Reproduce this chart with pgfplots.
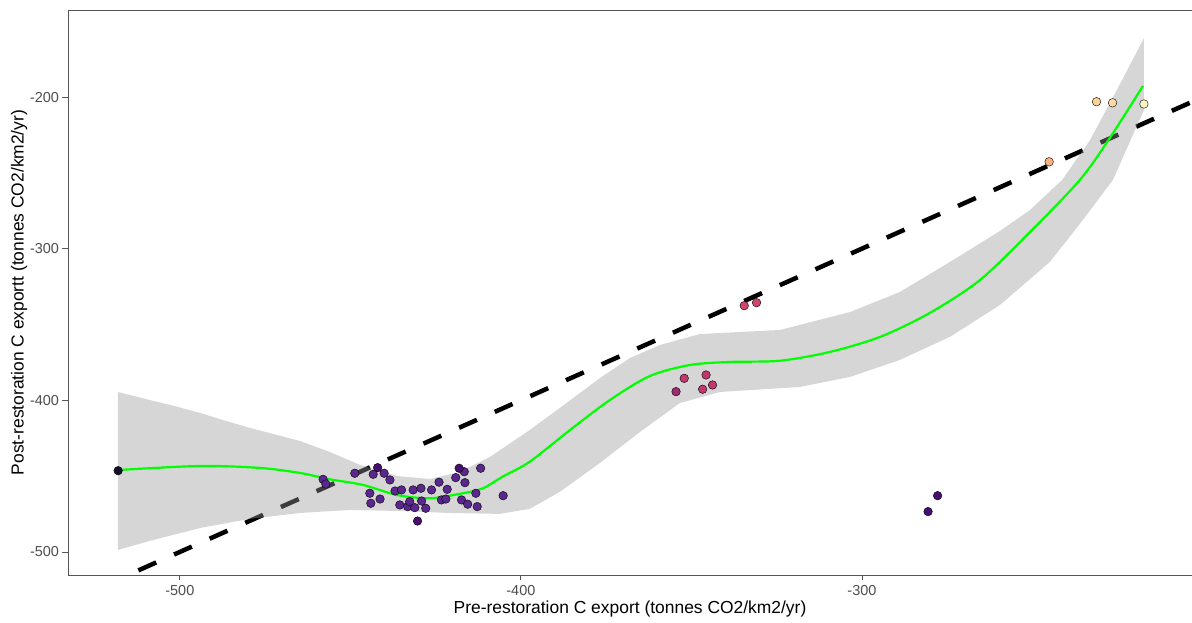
\documentclass[border=0pt]{standalone}
\usepackage{pgfplots}
\pgfplotsset{compat=1.18}
\usepackage{fontspec}
\setmainfont{Liberation Sans}
\definecolor{tickgrey}{HTML}{4D4D4D}
\definecolor{bordergrey}{HTML}{555555}
\definecolor{cpurple}{HTML}{5A288C}
\definecolor{cdark}{HTML}{46106C}
\definecolor{cblack}{HTML}{15102A}
\definecolor{cpinkA}{HTML}{C0386E}
\definecolor{cpinkB}{HTML}{A02A72}
\definecolor{cred}{HTML}{D4456A}
\definecolor{corange}{HTML}{F9B27E}
\definecolor{cpeach}{HTML}{FBD295}
\definecolor{ctan}{HTML}{FFD9A2}
\definecolor{cyellow}{HTML}{FCF4C0}
\definecolor{ribbon}{HTML}{999999}
\definecolor{lime}{HTML}{00FF00}
\begin{document}
\begin{tikzpicture}
\begin{axis}[
  scale only axis, width=1124bp, height=565bp,
  xmin=-532.8, xmax=-203.2, ymin=-515.2, ymax=-142.6,
  xtick={-500,-400,-300}, ytick={-500,-400,-300,-200},
  tick pos=left, tick align=outside, major tick length=5.5bp,
  tick style={bordergrey, line width=0.8bp},
  axis line style={bordergrey, line width=0.8bp},
  /pgf/number format/assume math mode=true,
  ticklabel style={font=\fontsize{14.5}{17}\selectfont, text=tickgrey},
  xticklabel style={yshift=-1.5bp},
  label style={font=\fontsize{17.5}{21}\selectfont},
  xlabel={Pre-restoration C export (tonnes CO2/km2/yr)},
  ylabel={Post-restoration C exportt (tonnes CO2/km2/yr)},
  xlabel style={at={(axis description cs:0.5,-0.061)}, anchor=center, inner sep=1bp},
  ylabel style={at={(axis description cs:-0.0436,0.5)}, anchor=center},
  every axis plot/.append style={mark options={draw=black, line width=0.7bp}},
  clip=true,
]
% points
\addplot[only marks, mark=*, mark size=4.3bp, mark options={fill=cpurple}] coordinates {
(-443.3,-448.8) (-440.1,-448.1) (-438.4,-452.5) (-444.3,-461.3)
(-441.3,-465.1) (-444.0,-467.9) (-436.9,-459.8) (-435.0,-459.1) (-431.6,-459.1)
(-429.3,-458.0) (-426.2,-459.1) (-435.5,-469.0) (-433.2,-470.1) (-432.6,-466.8)
(-431.1,-470.8) (-429.1,-466.4) (-427.9,-471.2)
(-416.6,-447.1) (-411.8,-444.8) (-419.1,-451.0) (-424.0,-454.0) (-416.4,-454.3)
(-421.6,-458.7) (-413.2,-461.3) (-405.2,-462.9) (-423.3,-465.7) (-422.0,-465.1)
(-417.4,-465.7) (-415.6,-468.5) (-412.8,-470.1) (-458.0,-452.1) (-457.2,-455.2)
(-448.7,-448.1)
};
\addplot[only marks, mark=*, mark size=4.3bp, mark options={fill=cdark}] coordinates {
(-442.0,-444.4) (-418.1,-444.8) (-430.3,-479.6) (-277.8,-462.9) (-280.6,-473.4)};
\addplot[only marks, mark=*, mark size=4.3bp, mark options={fill=cblack}] coordinates {(-518.1,-446.4)};
\addplot[only marks, mark=*, mark size=4.3bp, mark options={fill=cpinkA}] coordinates {
(-352.1,-385.5) (-345.7,-383.3) (-346.7,-392.7) (-343.8,-389.9)};
\addplot[only marks, mark=*, mark size=4.3bp, mark options={fill=cpinkB}] coordinates {(-354.5,-394.3)};
\addplot[only marks, mark=*, mark size=4.3bp, mark options={fill=cred}] coordinates {(-334.5,-337.6) (-330.9,-335.6)};
\addplot[only marks, mark=*, mark size=4.3bp, mark options={fill=corange}] coordinates {(-245.1,-242.7)};
\addplot[only marks, mark=*, mark size=4.3bp, mark options={fill=cpeach}] coordinates {(-231.2,-203.1)};
\addplot[only marks, mark=*, mark size=4.3bp, mark options={fill=ctan}] coordinates {(-226.5,-203.8)};
\addplot[only marks, mark=*, mark size=4.3bp, mark options={fill=cyellow}] coordinates {(-217.3,-204.6)};
% 1:1 line
\addplot[black, line width=4.5bp, dash pattern=on 19.5bp off 19.5bp, dash phase=13.1bp] coordinates {(-540,-540) (-190,-190)};
% ribbon
\addplot[draw=none, fill=ribbon, fill opacity=0.4] coordinates {
(-518.2,-394.5) (-508.8,-399.8) (-501.5,-403.8) (-494.1,-408.3) (-486.8,-413.4)
(-479.5,-418.2) (-472.1,-422.5) (-464.8,-426.8) (-456.0,-434.1) (-447.2,-442.6)
(-436.4,-449.9) (-426.7,-451.9) (-417.9,-447.3)
(-409.1,-437.4) (-397.4,-419.6) (-388.6,-405.1) (-376.8,-385.3) (-368.0,-372.1)
(-359.2,-363.5) (-347.5,-356.3) (-324.0,-353.6) (-303.5,-341.8) (-288.9,-328.6)
(-274.2,-308.8) (-259.5,-288.3) (-250.7,-274.5) (-241.3,-254.7) (-233.1,-228.4)
(-223.7,-188.8) (-217.3,-161.1)
(-217.3,-208.6) (-226.4,-254.7) (-236.1,-283.7) (-244.9,-308.8) (-259.5,-337.1)
(-274.2,-358.2) (-288.9,-373.4) (-303.5,-384.6) (-318.2,-391.2) (-341.6,-394.5)
(-353.4,-401.8) (-365.1,-420.9) (-376.8,-441.3) (-388.6,-460.4) (-397.4,-471.6)
(-406.2,-474.9) (-420.8,-474.3) (-435.5,-473.0) (-450.1,-472.3) (-464.8,-474.3)
(-479.5,-478.2) (-494.1,-484.2) (-508.8,-492.7) (-518.2,-498.7)
} -- cycle;
% loess curve
\addplot[lime, line width=2.2bp, smooth] coordinates {
(-518.2,-446.0) (-494.1,-443.3) (-476.5,-444.6) (-464.8,-447.9) (-456.0,-452.1)
(-446.3,-455.8) (-436.4,-462.4) (-426.7,-464.6) (-417.0,-461.3) (-411.1,-458.0)
(-405.3,-450.3) (-397.4,-440.5) (-385.6,-419.6) (-373.9,-399.8) (-362.2,-384.0)
(-350.4,-376.7) (-338.7,-374.7) (-324.0,-373.9) (-309.4,-368.1) (-294.7,-358.2)
(-280.1,-342.4) (-265.4,-320.7) (-250.7,-289.0) (-236.1,-254.7) (-227.3,-227.0)
(-217.6,-192.7)
};
\end{axis}
\pgfresetboundingbox
\path[use as bounding box] ([shift={(-68bp,-48bp)}]current axis.south west) rectangle ([shift={(0bp,10bp)}]current axis.north east);
\end{tikzpicture}
\end{document}
